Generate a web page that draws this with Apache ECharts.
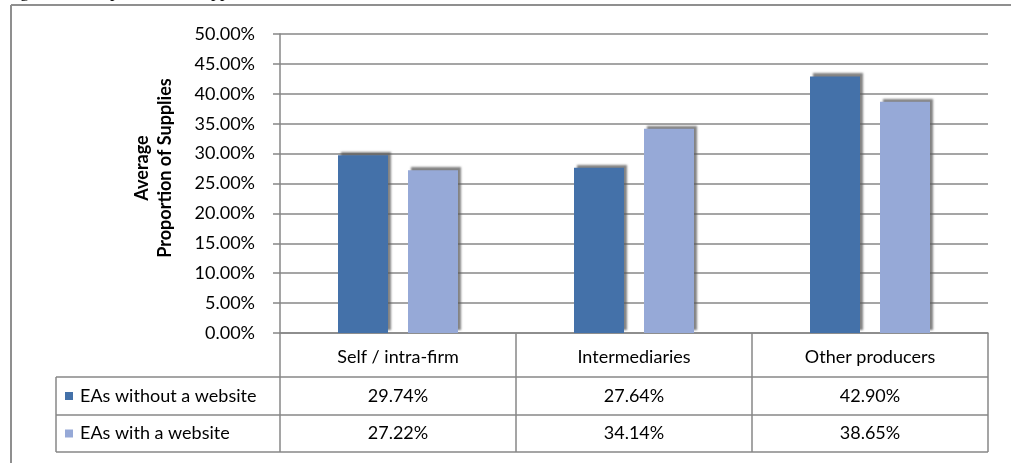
<!DOCTYPE html>
<html>
<head>
<meta charset="utf-8">
<script src="https://cdn.jsdelivr.net/npm/echarts@6/dist/echarts.min.js"></script>
<style>
html,body{margin:0;padding:0;background:#fff;}
#chart{width:1011px;height:463px;}
</style>
</head>
<body>
<div id="chart"></div>
<script>
// ---- data ----
const categories = ['Self / intra-firm', 'Intermediaries', 'Other producers'];
const seriesNames = ['EAs without a website', 'EAs with a website'];
const withoutWebsite = [29.74, 27.64, 42.90];
const withWebsite = [27.22, 34.14, 38.65];
const yAxisTitle = ['Average', 'Proportion of Supplies'];
const captionText = 'Figure 5: Composition of Supplies';

const colors = ['#4471A9', '#96A9D7'];
const FONT = 'Lato, "Open Sans", sans-serif';
const FS = 18;
const GRID_COLOR = '#878787';

const chart = echarts.init(document.getElementById('chart'), null, {renderer: 'canvas'});

const fmt = v => v.toFixed(2) + '%';

chart.setOption({
  animation: false,
  backgroundColor: '#fff',
  grid: {left: 280, right: 23, top: 34, bottom: 130, containLabel: false},
  xAxis: {
    type: 'category',
    data: categories,
    axisLine: {show: true, lineStyle: {color: GRID_COLOR, width: 1.5}},
    axisTick: {show: false},
    axisLabel: {show: true, margin: 15, fontFamily: FONT, fontSize: FS, color: '#000'}
  },
  yAxis: {
    type: 'value',
    min: 0, max: 50, interval: 5,
    axisLine: {show: true, lineStyle: {color: GRID_COLOR, width: 1.5}},
    axisTick: {show: true, length: 7, inside: false, lineStyle: {color: GRID_COLOR, width: 1.5}},
    splitLine: {show: true, lineStyle: {color: GRID_COLOR, width: 1.5}},
    axisLabel: {formatter: fmt, margin: 25, fontFamily: FONT, fontSize: FS, color: '#000'}
  },
  series: [
    {
      name: seriesNames[0], type: 'bar', data: withoutWebsite,
      barWidth: 50, barGap: '40%',
      itemStyle: {color: colors[0], shadowColor: 'rgba(90,90,90,0.75)', shadowOffsetX: 3, shadowOffsetY: -3, shadowBlur: 2}
    },
    {
      name: seriesNames[1], type: 'bar', data: withWebsite,
      barWidth: 50, barGap: '40%',
      itemStyle: {color: colors[1], shadowColor: 'rgba(90,90,90,0.75)', shadowOffsetX: 3, shadowOffsetY: -3, shadowBlur: 2}
    }
  ]
});

// ---- data table, frame and texts ----
const yZero = chart.convertToPixel({yAxisIndex: 0}, 0);
const gridRect = chart.getModel().getComponent('grid').coordinateSystem.getRect();
const axisX = gridRect.x;
const rightX = gridRect.x + gridRect.width;
const bandW = gridRect.width / categories.length;
const headerBottom = yZero + 44;
const row1Bottom = headerBottom + 38;
const row2Bottom = row1Bottom + 37;
const legendLeft = 56;

const lineStyle = {stroke: GRID_COLOR, lineWidth: 1.5};
const g = [];
function line(x1, y1, x2, y2, st) {
  g.push({type: 'line', silent: true, shape: {x1, y1, x2, y2}, style: st || lineStyle, z: 10});
}
// outer frame
line(11, 5, 1011, 5, {stroke: '#8f8f8f', lineWidth: 2});
line(11, 5, 11, 463, {stroke: '#8f8f8f', lineWidth: 2});
// table
line(axisX, yZero, axisX, row2Bottom);
for (let i = 1; i <= categories.length; i++) {
  const x = axisX + bandW * i;
  line(x, yZero, x, row2Bottom);
}
line(legendLeft, headerBottom, rightX, headerBottom);
line(legendLeft, row1Bottom, rightX, row1Bottom);
line(legendLeft, row2Bottom, rightX, row2Bottom);
line(legendLeft, headerBottom, legendLeft, row2Bottom);

const rows = [withoutWebsite, withWebsite];
const rowMid = [(headerBottom + row1Bottom) / 2, (row1Bottom + row2Bottom) / 2];
rows.forEach((vals, r) => {
  g.push({type: 'rect', silent: true, shape: {x: 65, y: rowMid[r] - 4, width: 8, height: 8}, style: {fill: colors[r]}, z: 11});
  g.push({type: 'text', silent: true, x: 80, y: rowMid[r], style: {text: seriesNames[r], fontFamily: FONT, fontSize: FS, fill: '#000', verticalAlign: 'middle', align: 'left'}, z: 11});
  vals.forEach((v, i) => {
    const cx = chart.convertToPixel({xAxisIndex: 0}, categories[i]);
    g.push({type: 'text', silent: true, x: cx, y: rowMid[r], style: {text: fmt(v), fontFamily: FONT, fontSize: FS, fill: '#000', verticalAlign: 'middle', align: 'center'}, z: 11});
  });
});

// y-axis title (two lines, rotated)
g.push({type: 'text', silent: true, x: 142, y: 168, rotation: Math.PI / 2,
  style: {text: yAxisTitle[0], fontFamily: FONT, fontSize: 18, fontWeight: 'bold', fill: '#000', align: 'center', verticalAlign: 'middle'}, z: 11});
g.push({type: 'text', silent: true, x: 165, y: 168, rotation: Math.PI / 2,
  style: {text: yAxisTitle[1], fontFamily: FONT, fontSize: 18, fontWeight: 'bold', fill: '#000', align: 'center', verticalAlign: 'middle'}, z: 11});

// caption mostly cut off above the frame
g.push({type: 'text', silent: true, x: 5, y: 1,
  style: {text: captionText, fontFamily: '"Liberation Serif", serif', fontSize: 18, fill: '#000', align: 'left', verticalAlign: 'bottom'}, z: 11});

chart.setOption({graphic: g});
</script>
</body>
</html>
